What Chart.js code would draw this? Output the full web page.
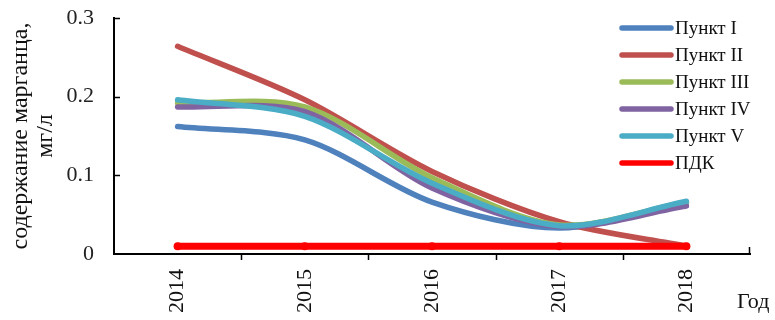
<!DOCTYPE html>
<html>
<head>
<meta charset="utf-8">
<script src="https://cdn.jsdelivr.net/npm/chart.js@4.4.1/dist/chart.umd.min.js"></script>
<style>
  html, body { margin: 0; padding: 0; background: #ffffff; }
  #wrap { width: 775px; height: 320px; }
</style>
</head>
<body>
<div id="wrap"><canvas id="chart" width="775" height="320"></canvas></div>
<script>
// Содержание марганца по пунктам наблюдения, мг/л
const years = ['2014', '2015', '2016', '2017', '2018'];
const punkt1 = [0.162, 0.145, 0.066, 0.033, 0.065];
const punkt2 = [0.264, 0.196, 0.105, 0.041, 0.010];
const punkt3 = [0.192, 0.187, 0.097, 0.037, 0.066];
const punkt4 = [0.187, 0.181, 0.084, 0.035, 0.061];
const punkt5 = [0.196, 0.175, 0.090, 0.036, 0.067];
const pdk    = [0.010, 0.010, 0.010, 0.010, 0.010];
const seriesNames = ['Пункт I', 'Пункт II', 'Пункт III', 'Пункт IV', 'Пункт V', 'ПДК'];
const yTickLabels = ['0', '0.1', '0.2', '0.3'];
const xAxisName = 'Год';
const yAxisName = ['содержание марганца,', 'мг/л'];

const SERIF = '"Liberation Serif", "Times New Roman", serif';
const palette = ['#4F81BD', '#C0504D', '#9BBB59', '#8064A2', '#4BACC6', '#FF0000'];
const seriesData = [punkt1, punkt2, punkt3, punkt4, punkt5, pdk];

const datasets = seriesData.map((vals, i) => {
  const isLimit = i === seriesData.length - 1;
  return {
    label: seriesNames[i],
    data: vals,
    borderColor: palette[i],
    backgroundColor: palette[i],
    borderWidth: isLimit ? 7 : 5.5,
    borderCapStyle: 'round',
    borderJoinStyle: 'round',
    tension: isLimit ? 0 : 0.3,
    pointRadius: isLimit ? 4 : 0,
    pointHoverRadius: 0,
    pointBorderWidth: 0,
    fill: false,
    // later series are painted above earlier ones
    order: seriesData.length - 1 - i
  };
});

// inward ticks on the value axis, outward ticks between categories
const axisTicks = {
  id: 'axisTicks',
  afterDraw(chart) {
    const ctx = chart.ctx;
    const x = chart.scales.x, y = chart.scales.y;
    const area = chart.chartArea;
    ctx.save();
    ctx.strokeStyle = '#000000';
    ctx.lineWidth = 1.5;
    ctx.beginPath();
    y.ticks.forEach(t => {
      if (t.value === 0) return;
      const py = Math.round(y.getPixelForValue(t.value)) + 0.5;
      ctx.moveTo(area.left, py);
      ctx.lineTo(area.left + 6, py);
    });
    for (let i = 0; i < years.length - 1; i++) {
      const px = Math.round((x.getPixelForValue(i) + x.getPixelForValue(i + 1)) / 2) + 0.5;
      ctx.moveTo(px, area.bottom);
      ctx.lineTo(px, area.bottom + 6);
    }
    const rx = Math.round(area.right) - 0.5;
    ctx.moveTo(rx, area.bottom);
    ctx.lineTo(rx, area.bottom - 7);
    ctx.stroke();

    // axis name at the right end of the category axis
    ctx.fillStyle = '#111111';
    ctx.font = '22px ' + SERIF;
    ctx.textAlign = 'left';
    ctx.textBaseline = 'alphabetic';
    ctx.fillText(xAxisName, area.right - 13, 308);
    ctx.restore();
  }
};

// legend as a column of line swatches in the upper right corner
const lineLegend = {
  id: 'lineLegend',
  afterDraw(chart) {
    const ctx = chart.ctx;
    ctx.save();
    ctx.font = '19px ' + SERIF;
    ctx.textAlign = 'left';
    ctx.textBaseline = 'middle';
    chart.data.datasets.forEach((ds, i) => {
      const cy = 28 + i * 27;
      ctx.strokeStyle = ds.borderColor;
      ctx.lineWidth = 5.5;
      ctx.lineCap = 'round';
      ctx.beginPath();
      ctx.moveTo(622, cy);
      ctx.lineTo(671, cy);
      ctx.stroke();
      ctx.fillStyle = '#111111';
      ctx.fillText(ds.label, 675, cy + 1);
    });
    ctx.restore();
  }
};

new Chart(document.getElementById('chart'), {
  type: 'line',
  data: { labels: years, datasets },
  options: {
    responsive: false,
    animation: false,
    events: [],
    layout: { padding: { top: 18, right: 25, bottom: 0, left: 0 } },
    plugins: {
      legend: { display: false },
      tooltip: { enabled: false }
    },
    scales: {
      x: {
        type: 'category',
        offset: true,
        grid: { display: false, drawTicks: false },
        border: { display: true, color: '#000000', width: 2 },
        ticks: {
          minRotation: 90,
          maxRotation: 90,
          autoSkip: false,
          padding: 15,
          color: '#111111',
          font: { family: SERIF, size: 22 }
        },
        afterFit(scale) { scale.height = 66; }
      },
      y: {
        min: 0,
        max: 0.3,
        grid: { display: false, drawTicks: false },
        border: { display: true, color: '#000000', width: 2 },
        ticks: {
          stepSize: 0.1,
          padding: 20,
          color: '#222222',
          font: { family: SERIF, size: 22 },
          callback: (v, idx) => yTickLabels[idx]
        },
        title: {
          display: true,
          text: yAxisName,
          color: '#111111',
          font: { family: SERIF, size: 24, lineHeight: 1.05 },
          padding: { top: 8, bottom: 0 }
        },
        afterFit(scale) {
          scale.width = 114;
          // plot frame is set by the layout padding, not by label overhang
          scale.paddingTop = 0;
          scale.paddingBottom = 0;
        }
      }
    }
  },
  plugins: [axisTicks, lineLegend]
});
</script>
</body>
</html>
